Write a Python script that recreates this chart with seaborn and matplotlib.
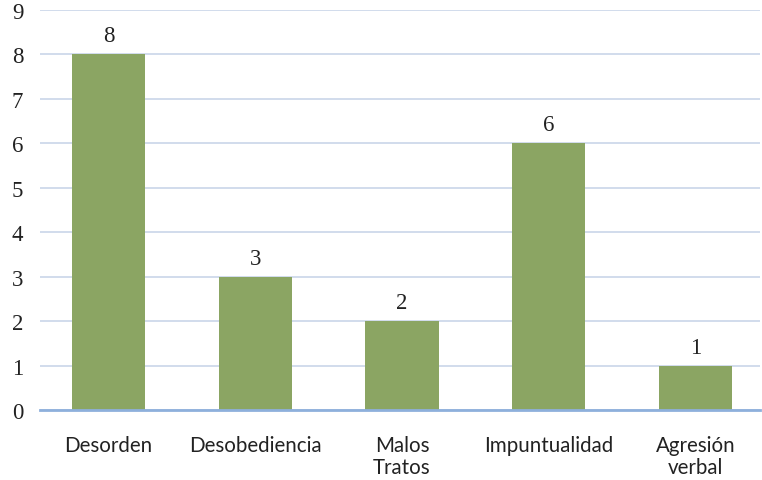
import matplotlib
matplotlib.use("Agg")
import matplotlib.pyplot as plt
import seaborn as sns
import pandas as pd

categorias = ["Desorden", "Desobediencia", "Malos\nTratos", "Impuntualidad", "Agresión\nverbal"]
valores = [8, 3, 2, 6, 1]
yticks = list(range(0, 10))

df = pd.DataFrame({"cat": categorias, "val": valores})

sns.set_style("white")
plt.rcParams['font.family'] = ['Lato', 'DejaVu Sans']

fig = plt.figure(figsize=(7.62, 4.81), dpi=100)
ax = fig.add_axes([40 / 762, 70 / 481, 720 / 762, 400 / 481])

sns.barplot(data=df, x="cat", y="val", color="#8BA563", saturation=1, width=0.5,
            linewidth=0, ax=ax)

ax.set_xlim(-0.467, 4.44)
ax.set_ylim(0, 9)
ax.set_yticks(yticks)
ax.set_yticklabels([str(t) for t in yticks], fontsize=16.5, family="Liberation Serif", color="#222222")
ax.tick_params(axis="y", length=0, pad=12)
ax.tick_params(axis="x", length=0, pad=18, labelsize=14.8, labelcolor="#222222")
for lbl in ax.get_xticklabels():
    lbl.set_linespacing(1.15)
ax.grid(axis="y", color="#CAD6E9", linewidth=1.2)
ax.set_axisbelow(True)
for s in ["top", "right", "left"]:
    ax.spines[s].set_visible(False)
ax.spines["bottom"].set_color("#8EB0DC")
ax.spines["bottom"].set_linewidth(2)
ax.set_xlabel("")
ax.set_ylabel("")

for i, v in enumerate(valores):
    ax.text(i, v + 0.18, str(v), ha="center", va="bottom", fontsize=16.5,
            family="Liberation Serif", color="#222222")

fig.savefig("out.png", dpi=100)
